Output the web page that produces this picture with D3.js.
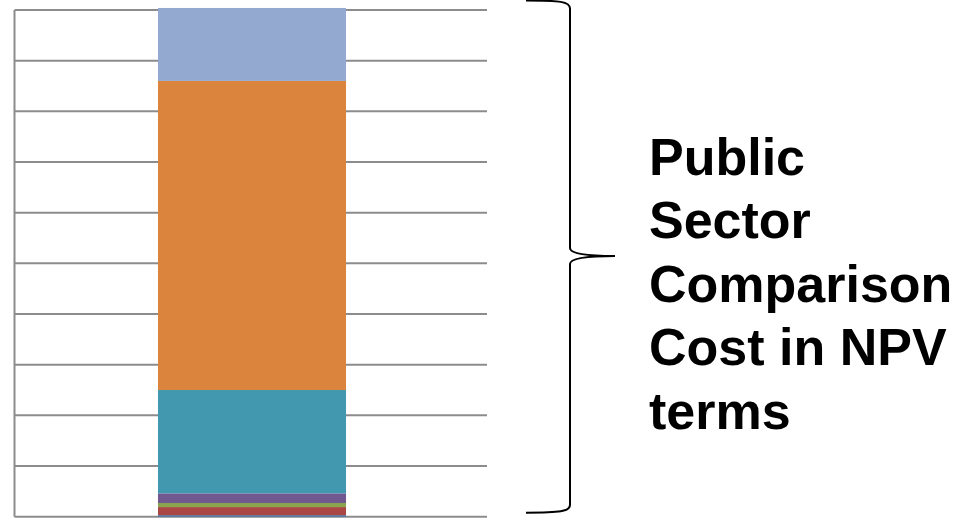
<!DOCTYPE html>
<html>
<head>
<meta charset="utf-8">
<script src="https://cdn.jsdelivr.net/npm/d3@7"></script>
<style>
  html, body { margin: 0; padding: 0; background: #fff; }
  svg { display: block; }
</style>
</head>
<body>
<div id="chart"></div>
<script>
// stack segments, bottom to top
const segments = ['s1', 's2', 's3', 's4', 's5', 's6', 's7'];
const segmentValues = [0.03, 0.16, 0.08, 0.19, 2.04, 6.10, 1.44];
const segmentColors = ['#4572A7', '#AA4643', '#89A54E', '#71588F', '#4198AF', '#DB843D', '#93A9CF'];
const yTicks = [0, 1, 2, 3, 4, 5, 6, 7, 8, 9, 10];
const labelLines = ['Public', 'Sector', 'Comparison', 'Cost in NPV', 'terms'];

const width = 963;
const height = 518;

const svg = d3.select('#chart')
    .append('svg')
    .attr('width', width)
    .attr('height', height);

const plot = {left: 14.5, right: 487, top: 10, bottom: 516.7};

const y = d3.scaleLinear()
    .domain([0, 10])
    .range([plot.bottom, plot.top]);

// single category, bar centred at ~252
const x = d3.scaleBand()
    .domain(['PSC'])
    .range([16, 488])
    .paddingInner(0)
    .paddingOuter(0.755);

// gridlines
svg.append('g')
    .selectAll('line')
    .data(yTicks)
    .enter()
    .append('line')
    .attr('x1', plot.left)
    .attr('x2', plot.right)
    .attr('y1', d => y(d))
    .attr('y2', d => y(d))
    .style('stroke', '#8c8c8c')
    .style('stroke-width', 2);

// left axis line
svg.append('line')
    .attr('x1', plot.left)
    .attr('x2', plot.left)
    .attr('y1', plot.top)
    .attr('y2', plot.bottom)
    .style('stroke', '#8c8c8c')
    .style('stroke-width', 2);

// stacked bar
const stackData = [{cat: 'PSC'}];
segments.forEach((s, i) => { stackData[0][s] = segmentValues[i]; });
const series = d3.stack().keys(segments)(stackData);

svg.append('g')
    .selectAll('rect')
    .data(series)
    .enter()
    .append('rect')
    .attr('x', d => x(d[0].data.cat))
    .attr('width', x.bandwidth())
    .attr('y', d => y(d[0][1]))
    .attr('height', d => y(d[0][0]) - y(d[0][1]))
    .style('fill', (d, i) => segmentColors[i]);

// curly brace
const bx0 = 526, bx1 = 570, tipX = 615;
const braceTop = 0.5, braceMid = 256, braceBot = 512.7;
const brace = d3.path();
brace.moveTo(bx0, braceTop);
brace.bezierCurveTo(bx0 + 34, braceTop, bx1, braceTop + 1, bx1, braceTop + 8);
brace.lineTo(bx1, braceMid - 8);
brace.bezierCurveTo(bx1, braceMid - 1, bx1 + 24, braceMid, tipX, braceMid);
brace.bezierCurveTo(bx1 + 24, braceMid, bx1, braceMid + 1, bx1, braceMid + 8);
brace.lineTo(bx1, braceBot - 8);
brace.bezierCurveTo(bx1, braceBot - 1, bx0 + 34, braceBot, bx0, braceBot);
svg.append('path')
    .attr('d', brace.toString())
    .style('fill', 'none')
    .style('stroke', '#000')
    .style('stroke-width', 2);

// label
svg.append('g')
    .selectAll('text')
    .data(labelLines)
    .enter()
    .append('text')
    .attr('x', 649)
    .attr('y', (d, i) => 174.5 + i * 63.6)
    .text(d => d)
    .style('font-family', '"Liberation Sans", Arial, sans-serif')
    .style('font-weight', 'bold')
    .style('font-size', '52px')
    .style('fill', '#000');
</script>
</body>
</html>
